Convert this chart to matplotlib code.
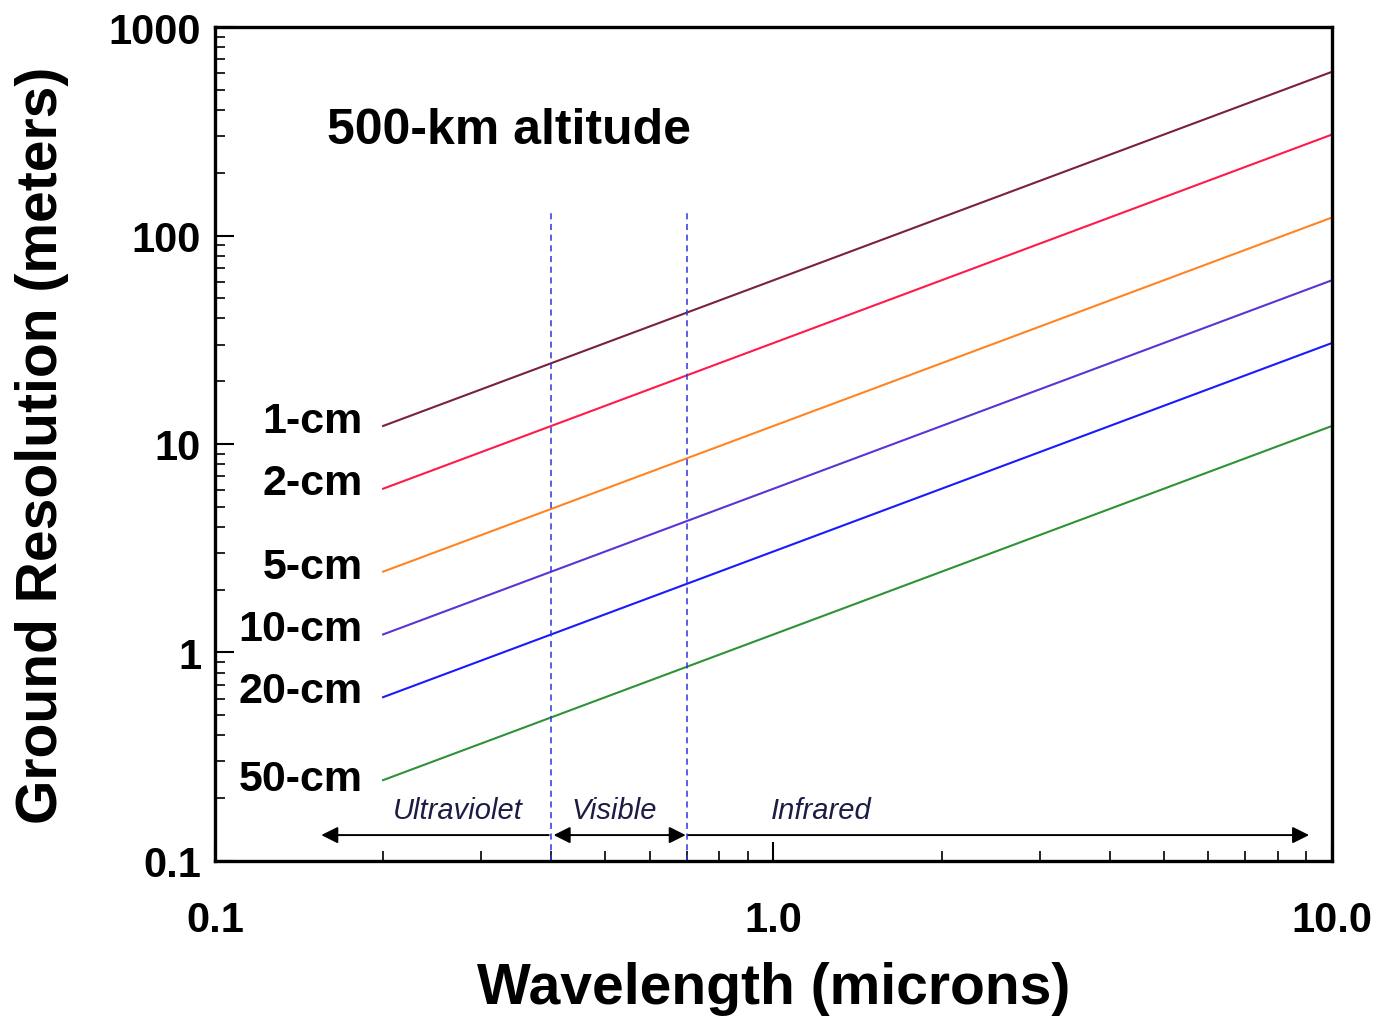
import numpy as np
import matplotlib
matplotlib.use("agg")
import matplotlib.pyplot as plt

plt.rcParams['font.family'] = ['Liberation Sans', 'DejaVu Sans']

# aperture labels and ground resolution (m) read at 0.2 and 10 microns
apertures = ["1-cm", "2-cm", "5-cm", "10-cm", "20-cm", "50-cm"]
wave_ends = [0.2, 10.0]
res_start = [12.2, 6.1, 2.44, 1.22, 0.61, 0.244]
res_end = [610, 305, 122, 61, 30.5, 12.2]
label_y = [12.9, 6.5, 2.57, 1.3, 0.65, 0.247]
colors = ["#7a2040", "#ff1a4c", "#ff8424", "#5a34d4", "#1a1aff", "#2e9236"]

band_edges = [0.4, 0.7]
band_top = 130
band_names = ["Ultraviolet", "Visible", "Infrared"]
band_text_x = [0.272, 0.519, 1.216]
arrow_left = 0.155
arrow_right = 9.1

fig = plt.figure(figsize=(13.78, 10.2), dpi=100)
ax = fig.add_axes([0.156, 0.155, 0.8106, 0.8175])

for i in range(len(apertures)):
    ax.plot(wave_ends, [res_start[i], res_end[i]], color=colors[i], lw=1.5)
    ax.text(0.184, label_y[i], apertures[i], ha="right", va="center",
            fontsize=31, fontweight="bold")

for xe in band_edges:
    ax.plot([xe, xe], [0.1, band_top], color="#2a36e0", lw=1.1,
            linestyle=(0, (4, 3)))

ay = 0.133
def arr(x0, x1, style):
    ax.annotate("", xy=(x1, ay), xytext=(x0, ay),
                arrowprops=dict(arrowstyle=style, color="black", lw=1.4,
                                mutation_scale=25, shrinkA=0, shrinkB=0))

arr(band_edges[0] * 0.99, arrow_left, "-|>")
arr(band_edges[0] * 1.01, band_edges[1] * 0.995, "<|-|>")
arr(band_edges[1] * 1.005, arrow_right, "-|>")

for name, tx in zip(band_names, band_text_x):
    ax.text(tx, 0.176, name, ha="center", va="center", fontsize=21,
            style="italic", color="#1c1c44")

ax.text(0.159, 320, "500-km altitude", ha="left", va="center",
        fontsize=36, fontweight="bold")

ax.set_xscale("log")
ax.set_yscale("log")
ax.set_xlim(0.1, 10)
ax.set_ylim(0.1, 1000)
ax.set_xticks([0.1, 1, 10])
ax.set_xticklabels(["0.1", "1.0", "10.0"])
ax.set_yticks([0.1, 1, 10, 100, 1000])
ax.set_yticklabels(["0.1", "1", "10", "100", "1000"])

ax.tick_params(axis="both", which="major", direction="in", length=14,
               width=1.5, labelsize=30)
ax.tick_params(axis="both", which="minor", direction="in", length=7,
               width=1.2)
ax.tick_params(axis="x", which="major", pad=28)
ax.tick_params(axis="y", which="major", pad=10)
for lab in ax.get_xticklabels() + ax.get_yticklabels():
    lab.set_fontweight("bold")
for sp in ax.spines.values():
    sp.set_linewidth(2.4)

ax.set_xlabel("Wavelength (microns)", fontsize=41, fontweight="bold")
ax.set_ylabel("Ground Resolution (meters)", fontsize=41, fontweight="bold")
ax.xaxis.set_label_coords(0.5, -0.152)
ax.yaxis.set_label_coords(-0.155, 0.5)
ax.xaxis.label.set_va("center")
ax.yaxis.label.set_va("center")

plt.savefig("out.png", dpi=100)
